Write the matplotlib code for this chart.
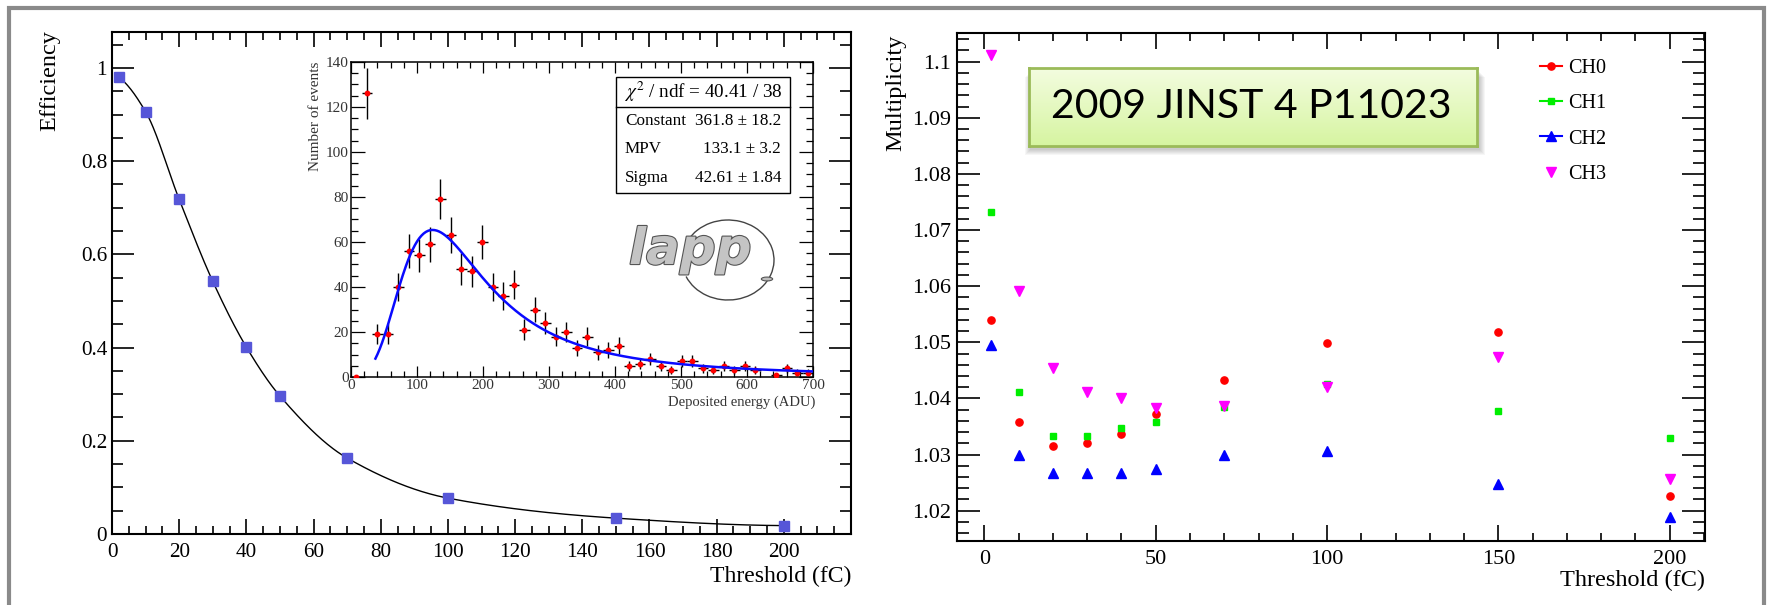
import numpy as np
import matplotlib
matplotlib.use("Agg")
import matplotlib.pyplot as plt
import matplotlib.ticker as mt
import matplotlib.patheffects as pe
from matplotlib.patches import Rectangle, Arc, Circle
from matplotlib.lines import Line2D

plt.rcParams['font.family'] = ['Liberation Serif', 'DejaVu Serif']
plt.rcParams['mathtext.fontset'] = 'stix'

# ---------------- data ----------------
thresholds = [2, 10, 20, 30, 40, 50, 70, 100, 150, 200]
efficiency = [0.980, 0.906, 0.718, 0.542, 0.401, 0.296, 0.163, 0.077, 0.034, 0.018]

inset_range = (0, 700)
inset_nbins = 44
inset_counts = [0, 126, 19, 19, 40, 56, 54, 59, 79, 63,
                48, 47, 60, 40, 36, 41, 21, 30, 24, 18,
                20, 13, 18, 11, 12, 14, 5, 6, 8, 5,
                3, 7, 7, 4, 3, 5, 3, 5, 3, np.nan,
                1, 4, 2, 2]
fit_constant = 361.8
fit_mpv = 133.1
fit_sigma = 42.61
fit_range = (37, 700)
stats_rows = [("Constant", "361.8 \u00b1 18.2"), ("MPV", "133.1 \u00b1 3.2"), ("Sigma", "42.61 \u00b1 1.84")]
chi2_text = r"$\chi^{2}$ / ndf = 40.41 / 38"

channels = ["CH0", "CH1", "CH2", "CH3"]
ch0 = [1.0539, 1.0358, 1.0316, 1.0320, 1.0337, 1.0372, 1.0433, 1.0498, 1.0519, 1.0226]
ch1 = [1.0732, 1.0411, 1.0333, 1.0333, 1.0347, 1.0358, 1.0385, 1.0426, 1.0378, 1.0330]
ch2 = [1.0496, 1.0300, 1.0267, 1.0267, 1.0267, 1.0275, 1.0300, 1.0306, 1.0248, 1.0188]
ch3 = [1.1012, 1.0591, 1.0454, 1.0412, 1.0400, 1.0383, 1.0387, 1.0421, 1.0474, 1.0256]
ch_colors = ['#ff0000', '#00ee00', '#0000ff', '#ff00ff']
ch_markers = ['o', 's', '^', 'v']
ch_sizes = [5.2, 5.0, 6.8, 6.8]

ref_text = "2009 JINST 4 P11023"

# ---------------- helpers ----------------
W, H = 1769, 605
fig = plt.figure(figsize=(W / 100, H / 100), dpi=100)


def rect(l, t, r, b):
    return [l / W, 1 - b / H, (r - l) / W, (b - t) / H]


def pchip(x, y, xn):
    x = np.asarray(x, float); y = np.asarray(y, float)
    h = np.diff(x); d = np.diff(y) / h
    m = np.zeros_like(y)
    for k in range(1, len(x) - 1):
        if d[k - 1] * d[k] > 0:
            w1 = 2 * h[k] + h[k - 1]; w2 = h[k] + 2 * h[k - 1]
            m[k] = (w1 + w2) / (w1 / d[k - 1] + w2 / d[k])
    def endslope(h0, h1, d0, d1):
        s = ((2 * h0 + h1) * d0 - h0 * d1) / (h0 + h1)
        if np.sign(s) != np.sign(d0):
            s = 0
        elif np.sign(d0) != np.sign(d1) and abs(s) > abs(3 * d0):
            s = 3 * d0
        return s
    m[0] = endslope(h[0], h[1], d[0], d[1])
    m[-1] = endslope(h[-1], h[-2], d[-1], d[-2])
    idx = np.clip(np.searchsorted(x, xn) - 1, 0, len(x) - 2)
    t = (xn - x[idx]) / h[idx]
    h00 = 2 * t**3 - 3 * t**2 + 1; h10 = t**3 - 2 * t**2 + t
    h01 = -2 * t**3 + 3 * t**2; h11 = t**3 - t**2
    return h00 * y[idx] + h10 * h[idx] * m[idx] + h01 * y[idx + 1] + h11 * h[idx] * m[idx + 1]


def landau(lam):
    t = np.linspace(1e-9, 50, 50001)[None, :]
    lam = np.asarray(lam)[:, None]
    f = np.exp(-t * np.log(t) - lam * t) * np.sin(np.pi * t)
    return np.trapezoid(f, t, axis=1) / np.pi


def root_ticks(ax, xmaj, xmin, ymaj, ymin, w, size, padx, pady, color='black'):
    ax.tick_params(which='both', direction='in', top=True, right=True, width=w,
                   labelsize=size, colors='black', labelcolor=color)
    ax.xaxis.set_tick_params(which='major', length=xmaj, pad=padx)
    ax.xaxis.set_tick_params(which='minor', length=xmin)
    ax.yaxis.set_tick_params(which='major', length=ymaj, pad=pady)
    ax.yaxis.set_tick_params(which='minor', length=ymin)


fmt_g = mt.FuncFormatter(lambda v, p: f"{round(v, 4):g}")

# ---------------- left panel ----------------
ax1 = fig.add_axes(rect(112, 32, 851, 534))
ax1.set_xlim(0, 220)
ax1.set_ylim(0, 1.077)
xs = np.linspace(thresholds[0], thresholds[-1], 600)
ax1.plot(xs, pchip(thresholds, efficiency, xs), color='black', lw=1.0, zorder=2)
ax1.plot(thresholds, efficiency, 's', color='#5656d8', ms=7.3, mec='#5656d8', zorder=3)
ax1.set_xticks(np.arange(0, 201, 20))
ax1.xaxis.set_minor_locator(mt.MultipleLocator(5))
ax1.set_yticks(np.arange(0, 1.01, 0.2))
ax1.yaxis.set_minor_locator(mt.MultipleLocator(0.05))
ax1.yaxis.set_major_formatter(fmt_g)
root_ticks(ax1, 10.8, 5.8, 15.8, 7.9, 1.2, 15.3, 6.5, 3.5)
for s in ax1.spines.values():
    s.set_linewidth(1.5)
fig.text(851 / W, 1 - 576 / H, "Threshold (fC)", fontsize=17, ha='right', va='center')
fig.text(50 / W, 1 - 30 / H, "Efficiency", fontsize=17.5, ha='center', va='top', rotation=90)

# ---------------- inset ----------------
axi = fig.add_axes(rect(351, 62, 813, 377))
axi.set_xlim(*inset_range)
axi.set_ylim(0, 140)
binw = (inset_range[1] - inset_range[0]) / inset_nbins
centers = inset_range[0] + binw * (np.arange(inset_nbins) + 0.5)
counts = np.array(inset_counts, float)
axi.errorbar(centers, counts, xerr=binw / 2, yerr=np.sqrt(counts), fmt='o', ms=3.2,
             mfc='red', mec='red', ecolor='black', elinewidth=1.0, capsize=0, zorder=3)
xf = np.linspace(fit_range[0], fit_range[1], 400)
axi.plot(xf, fit_constant * landau((xf - fit_mpv) / fit_sigma), color='#0a0aff', lw=1.8, zorder=4)
axi.set_xticks(np.arange(0, 701, 100))
axi.xaxis.set_minor_locator(mt.MultipleLocator(20))
axi.set_yticks(np.arange(0, 141, 20))
axi.yaxis.set_minor_locator(mt.MultipleLocator(5))
root_ticks(axi, 8, 4.3, 10, 5, 0.9, 11, 1.5, 1.5, color='#333333')
for s in axi.spines.values():
    s.set_linewidth(1.1)
fig.text(815 / W, 1 - 402 / H, "Deposited energy (ADU)", fontsize=10.5, ha='right', va='center', color='#333333')
fig.text(315 / W, 1 - 62 / H, "Number of events", fontsize=11, ha='center', va='top', rotation=90, color='#333333')

# stats box
fig.add_artist(Rectangle((616 / W, 1 - 193 / H), 174 / W, 116.3 / H, transform=fig.transFigure,
                         facecolor='white', edgecolor='black', lw=1.0, zorder=6))
fig.add_artist(Line2D([616 / W, 790 / W], [1 - 106.7 / H] * 2, transform=fig.transFigure,
                      color='black', lw=1.0, zorder=7))
fig.text(703 / W, 1 - 91.7 / H, chi2_text, fontsize=13.8, ha='center', va='center', zorder=8)
for i, (lab, val) in enumerate(stats_rows):
    yy = 1 - (120.7 + 28.5 * i) / H
    fig.text(625 / W, yy, lab, fontsize=12.3, ha='left', va='center', zorder=8)
    fig.text(781 / W, yy, val, fontsize=12.3, ha='right', va='center', zorder=8)

# lapp logo
fig.text(629 / W, 1 - 264 / H, "lapp", fontsize=36, fontweight='bold', style='italic',
         family='DejaVu Sans', color='#c4c4c4', ha='left', va='baseline', zorder=8,
         path_effects=[pe.withStroke(linewidth=1.6, foreground='#555555')])
fig.add_artist(Arc((728 / W, 1 - 260 / H), 92 / W, 80 / H, theta1=-131, theta2=125,
                   transform=fig.transFigure, color='#444444', lw=1.0, zorder=8))
fig.add_artist(Circle((767 / W, 1 - 279 / H), 0.0032, transform=fig.transFigure,
                      facecolor='#bdbdbd', edgecolor='#555555', lw=0.8, zorder=9))

# ---------------- right panel ----------------
ax2 = fig.add_axes(rect(957, 33, 1705, 541))
ax2.set_xlim(-8, 210.3)
ax2.set_ylim(1.0146, 1.1051)
handles = []
for name, vals, c, m, ms in zip(channels, [ch0, ch1, ch2, ch3], ch_colors, ch_markers, ch_sizes):
    ax2.plot(thresholds, vals, linestyle='none', marker=m, color=c, ms=ms, mec=c, zorder=3)
    handles.append(Line2D([], [], color=c, marker=m, ms=ms, lw=1.5,
                          linestyle='none' if name == 'CH3' else '-'))
ax2.set_xticks([0, 50, 100, 150, 200])
ax2.xaxis.set_minor_locator(mt.MultipleLocator(10))
ax2.set_yticks(np.round(np.arange(1.02, 1.1001, 0.01), 3))
ax2.yaxis.set_minor_locator(mt.MultipleLocator(0.002))
ax2.yaxis.set_major_formatter(fmt_g)
root_ticks(ax2, 11.3, 5.8, 16.3, 8.4, 1.2, 16, 6.5, 4.5)
for s in ax2.spines.values():
    s.set_linewidth(1.5)
fig.text(1705 / W, 1 - 580 / H, "Threshold (fC)", fontsize=17.5, ha='right', va='center')
fig.text(896 / W, 1 - 35 / H, "Multiplicity", fontsize=17.5, ha='center', va='top', rotation=90)
leg = ax2.legend(handles, channels, loc='upper left', bbox_to_anchor=(1540 / W, 1 - 59 / H),
                 bbox_transform=fig.transFigure, frameon=False, fontsize=14.5,
                 handlelength=1.1, handletextpad=0.3, labelspacing=0.8, borderpad=0, borderaxespad=0)

# reference box with gradient
bl, bt, br, bb = 1028.6, 67.5, 1477.4, 146
for k in range(6, 0, -1):
    fig.add_artist(Rectangle(((bl + 2 - k) / W, 1 - (bb + 3 + k) / H), (br - bl + 2 * k) / W,
                             (bb - bt) / H, transform=fig.transFigure, facecolor='black',
                             edgecolor='none', alpha=0.035, zorder=3))
axb = fig.add_axes(rect(bl, bt, br, bb), zorder=5)
grad = np.linspace(0, 1, 100)[:, None]
top_c = np.array([0.955, 0.99, 0.88]); bot_c = np.array([0.84, 0.96, 0.63])
img = top_c[None, None, :] * (1 - grad[:, :, None]) + bot_c[None, None, :] * grad[:, :, None]
axb.imshow(img, aspect='auto', extent=[0, 1, 0, 1])
axb.set_xticks([]); axb.set_yticks([])
for s in axb.spines.values():
    s.set_color('#9bbb59'); s.set_linewidth(2.0)
axb.text(0.495, 0.5, ref_text, transform=axb.transAxes, fontsize=29.5, family='Lato',
         ha='center', va='center', color='black')

# outer frame
fig.add_artist(Rectangle((8.5 / W, -0.05), 1755 / W, 1.05 - 8 / H, transform=fig.transFigure,
                         facecolor='none', edgecolor='#8a8a8a', lw=3.0, zorder=10))

fig.savefig("out.png", dpi=100)
